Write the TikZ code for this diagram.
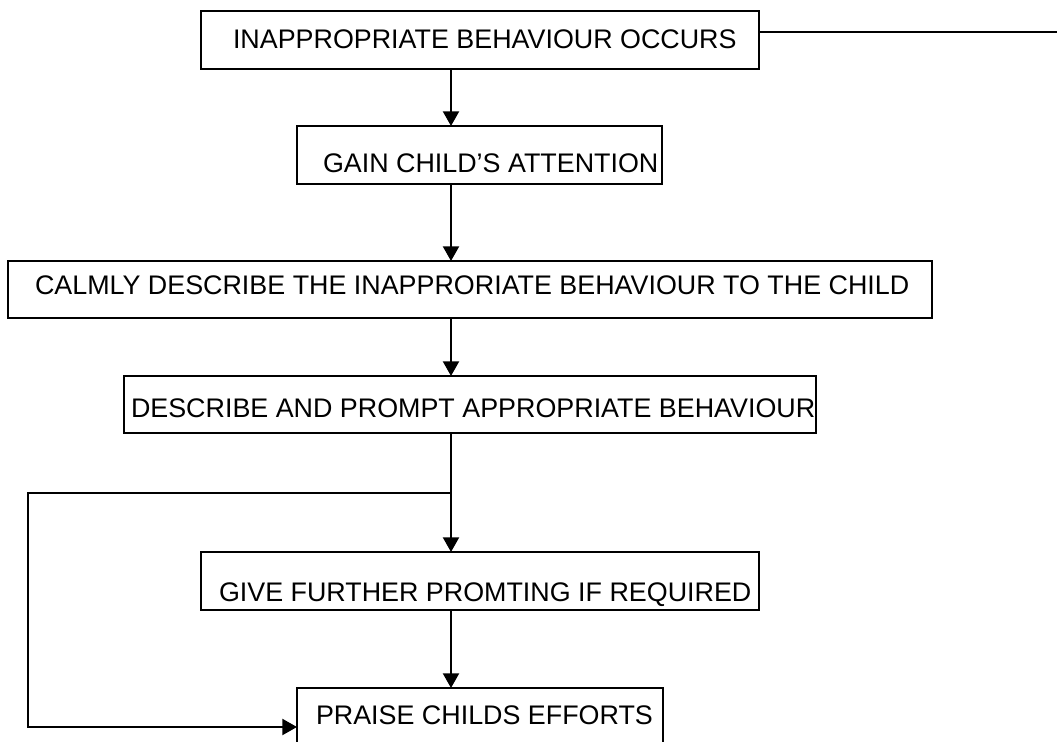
\documentclass[tikz,border=0pt]{standalone}
\usepackage{fontspec}
\setmainfont{Liberation Sans}
\usetikzlibrary{arrows.meta}
\begin{document}
\begin{tikzpicture}[x=0.75pt,y=-0.75pt,
  line width=1.6pt,
  boxnode/.style={draw=black, line width=1.5pt, rectangle, inner sep=0pt, outer sep=0pt},
  txt/.style={anchor=base west, inner sep=0pt, outer sep=0pt, font=\fontsize{20.15}{24}\selectfont},
  arr/.style={-{Triangle[width=12pt,length=11pt]}}]
\useasboundingbox (0,0) rectangle (1057,742);
\clip (0,0) rectangle (1057,742);
% boxes
\node[boxnode, minimum width=418.5pt, minimum height=43.5pt] (b1) at (480,40) {};
\node[boxnode, minimum width=273.75pt, minimum height=43.5pt] (b2) at (479.5,155) {};
\node[boxnode, minimum width=693pt, minimum height=42.75pt] (b3) at (470,289.5) {};
\node[boxnode, minimum width=519pt, minimum height=42.75pt] (b4) at (470,404.5) {};
\node[boxnode, minimum width=418.5pt, minimum height=43.5pt] (b5) at (480,581) {};
\node[boxnode, minimum width=274.5pt, minimum height=43.5pt] (b6) at (480,717) {};
% texts
\node[txt] (t1) at (233,49) {INAPPROPRIATE BEHAVIOUR OCCURS};
\node[txt] (t2) at (323,172) {GAIN CHILD’S ATTENTION};
\node[txt] (t3) at (35,294) {CALMLY DESCRIBE THE INAPPRORIATE BEHAVIOUR TO THE CHILD};
\node[txt] (t4) at (131,417) {DESCRIBE AND PROMPT APPROPRIATE BEHAVIOUR};
\node[txt] (t5) at (219,601) {GIVE FURTHER PROMTING IF REQUIRED};
\node[txt] (t6) at (316,724) {PRAISE CHILDS EFFORTS};
% helper coordinates
\coordinate (ax) at (451,0);
\coordinate (re) at (1057,32);
\coordinate (br) at (451,493);
\coordinate (bl) at (28,493);
\coordinate (bb) at (28,727);
% connectors
\draw[arr] (b1.south -| ax) -- (b2.north -| ax);
\draw[arr] (b2.south -| ax) -- (b3.north -| ax);
\draw[arr] (b3.south -| ax) -- (b4.north -| ax);
\draw[arr] (b4.south -| ax) -- (b5.north -| ax);
\draw[arr] (b5.south -| ax) -- (b6.north -| ax);
\draw (b1.east |- re) -- (re);
\draw[arr] (br) -- (bl) -- (bb) -- (b6.west |- bb);
\end{tikzpicture}
\end{document}
